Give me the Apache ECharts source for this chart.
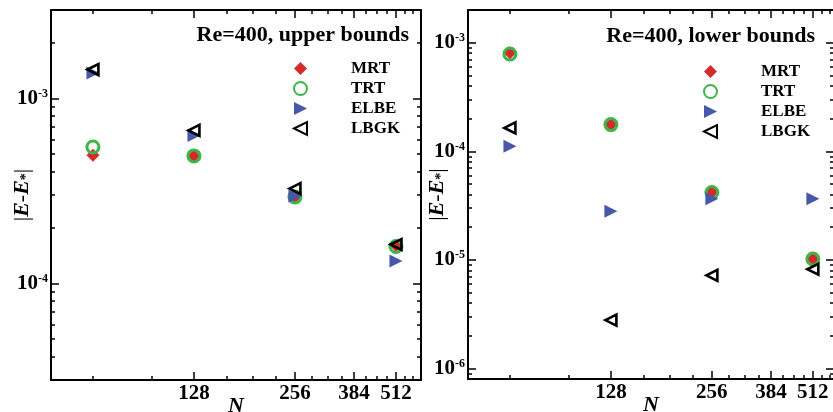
<!DOCTYPE html>
<html>
<head>
<meta charset="utf-8">
<script src="https://cdn.jsdelivr.net/npm/echarts@6/dist/echarts.min.js"></script>
<style>
  html, body { margin: 0; padding: 0; background: #fff; }
  #main { width: 833px; height: 412px; }
</style>
</head>
<body>
<div id="main"></div>
<script>
  var nValues = [64, 128, 256, 512];
  var seriesNames = ['MRT', 'TRT', 'ELBE', 'LBGK'];

  // Re=400, upper bounds
  var upperMRT = [4.92e-4, 4.88e-4, 2.93e-4, 1.60e-4];
  var upperTRT = [5.45e-4, 4.88e-4, 2.93e-4, 1.58e-4];
  var upperELBE = [1.37e-3, 6.3e-4, 2.95e-4, 1.32e-4];
  var upperLBGK = [1.43e-3, 6.7e-4, 3.25e-4, 1.62e-4];

  // Re=400, lower bounds
  var lowerMRT = [8.1e-4, 1.76e-4, 4.2e-5, 1.02e-5];
  var lowerTRT = [7.87e-4, 1.76e-4, 4.17e-5, 1.02e-5];
  var lowerELBE = [1.11e-4, 2.8e-5, 3.65e-5, 3.65e-5];
  var lowerLBGK = [1.64e-4, 2.79e-6, 7.2e-6, 8.2e-6];

  var xTickLabels = [128, 256, 384, 512];
  var xMinorTicks = [64, 96, 160, 192, 224, 288, 320, 352, 416, 448, 480, 544, 576];
  var upperYLabels = [1e-4, 1e-3];
  var lowerYLabels = [1e-6, 1e-5, 1e-4, 1e-3];

  var FONT = "'Liberation Serif', 'Times New Roman', serif";

  // minor ticks 2..9 x 10^e inside [lo, hi]
  function minorLogTicks(lo, hi) {
    var out = [];
    for (var e = Math.floor(Math.log10(lo)); e <= Math.ceil(Math.log10(hi)); e++) {
      for (var k = 2; k <= 9; k++) {
        var v = k * Math.pow(10, e);
        if (v >= lo * 0.999 && v <= hi * 1.001) out.push(v);
      }
    }
    return out;
  }

  function pairs(ys) {
    return nValues.map(function (n, i) { return [n, ys[i]]; });
  }

  var lineStyle = { color: '#000', width: 2 };
  var tickStyle = { color: '#000', width: 1.5 };

  function xAxes(g, xMax) {
    var base = { gridIndex: g, type: 'log', logBase: 2, min: 48, max: xMax, splitLine: { show: false } };
    return [
      Object.assign({}, base, {
        position: 'bottom',
        axisLine: { show: true, onZero: false, lineStyle: lineStyle },
        axisTick: { show: true, inside: true, length: 8, customValues: xTickLabels, lineStyle: tickStyle },
        axisLabel: {
          customValues: xTickLabels, margin: 3, color: '#000',
          fontFamily: FONT, fontWeight: 'bold', fontSize: 21,
          formatter: function (v) { return String(Math.round(v)); }
        },
        name: 'N', nameLocation: 'middle', nameGap: 15, nameMoveOverlap: false,
        nameTextStyle: { fontFamily: FONT, fontWeight: 'bold', fontStyle: 'italic', fontSize: 22, color: '#000' }
      }),
      Object.assign({}, base, {
        position: 'bottom',
        axisLine: { show: false },
        axisTick: { show: true, inside: true, length: 4, customValues: xMinorTicks, lineStyle: tickStyle },
        axisLabel: { show: false }
      }),
      Object.assign({}, base, {
        position: 'top',
        axisLine: { show: true, onZero: false, lineStyle: lineStyle },
        axisTick: { show: true, inside: true, length: 8, customValues: xTickLabels, lineStyle: tickStyle },
        axisLabel: { show: false }
      }),
      Object.assign({}, base, {
        position: 'top',
        axisLine: { show: false },
        axisTick: { show: true, inside: true, length: 4, customValues: xMinorTicks, lineStyle: tickStyle },
        axisLabel: { show: false }
      })
    ];
  }

  function yAxes(g, yMin, yMax, labels, nameGap) {
    var base = { gridIndex: g, type: 'log', logBase: 10, min: yMin, max: yMax, splitLine: { show: false } };
    var minor = minorLogTicks(yMin, yMax);
    return [
      Object.assign({}, base, {
        position: 'left',
        axisLine: { show: true, onZero: false, lineStyle: lineStyle },
        axisTick: { show: true, inside: true, length: 8, customValues: labels, lineStyle: tickStyle },
        axisLabel: {
          customValues: labels, margin: 3,
          formatter: function (v) {
            return '{b|10}{s|' + Math.round(Math.log10(v)) + '}';
          },
          rich: {
            b: { fontFamily: FONT, fontWeight: 'bold', fontSize: 21, color: '#000', lineHeight: 21 },
            s: { fontFamily: FONT, fontWeight: 'bold', fontSize: 12, color: '#000', verticalAlign: 'top', lineHeight: 12 }
          }
        },
        name: '{n||}{i|E}{n|-}{i|E}{sub|*}{n||}',
        nameLocation: 'middle', nameGap: nameGap, nameRotate: 90, nameMoveOverlap: false,
        nameTextStyle: {
          rich: {
            n: { fontFamily: FONT, fontSize: 22, color: '#000', lineHeight: 22 },
            i: { fontFamily: FONT, fontSize: 22, fontWeight: 'bold', fontStyle: 'italic', color: '#000', lineHeight: 22 },
            sub: { fontFamily: FONT, fontSize: 14, fontWeight: 'bold', color: '#000', verticalAlign: 'bottom', lineHeight: 14 }
          }
        }
      }),
      Object.assign({}, base, {
        position: 'left',
        axisLine: { show: false },
        axisTick: { show: true, inside: true, length: 4, customValues: minor, lineStyle: tickStyle },
        axisLabel: { show: false }
      }),
      Object.assign({}, base, {
        position: 'right',
        axisLine: { show: true, onZero: false, lineStyle: lineStyle },
        axisTick: { show: true, inside: true, length: 8, customValues: labels, lineStyle: tickStyle },
        axisLabel: { show: false }
      }),
      Object.assign({}, base, {
        position: 'right',
        axisLine: { show: false },
        axisTick: { show: true, inside: true, length: 4, customValues: minor, lineStyle: tickStyle },
        axisLabel: { show: false }
      })
    ];
  }

  var markerStyles = {
    MRT: { symbol: 'diamond', symbolSize: 13, symbolRotate: 0,
           icon: 'diamond',
           itemStyle: { color: '#d32a2c', opacity: 1 } },
    TRT: { symbol: 'circle', symbolSize: 12, symbolRotate: 0,
           icon: 'circle',
           itemStyle: { color: 'rgba(255,255,255,0)', borderColor: '#3db649', borderWidth: 3, opacity: 1 } },
    ELBE: { symbol: 'triangle', symbolSize: 13, symbolRotate: -90,
            icon: 'path://M10,5L0,0L0,10Z',
            itemStyle: { color: '#4757aa', opacity: 1 } },
    LBGK: { symbol: 'triangle', symbolSize: 11, symbolRotate: 90,
            icon: 'path://M0,5L10,0L10,10Z',
            itemStyle: { color: 'rgba(255,255,255,0)', borderColor: '#000', borderWidth: 2.6, opacity: 1 } }
  };

  function makeSeries(g, lists) {
    return seriesNames.map(function (name, i) {
      var st = markerStyles[name];
      return {
        name: name, type: 'scatter',
        xAxisIndex: g * 4, yAxisIndex: g * 4,
        symbol: st.symbol, symbolSize: st.symbolSize, symbolRotate: st.symbolRotate,
        itemStyle: st.itemStyle,
        emphasis: { disabled: true },
        data: pairs(lists[i])
      };
    });
  }

  function makeLegend(left, top) {
    return {
      data: seriesNames.map(function (name) {
        return { name: name, icon: markerStyles[name].icon };
      }),
      orient: 'vertical', left: left, top: top,
      itemWidth: 13, itemHeight: 13, itemGap: 3, padding: 0,
      selectedMode: false,
      textStyle: { fontFamily: FONT, fontWeight: 'bold', fontSize: 17, color: '#000', padding: [0, 0, 0, 39] }
    };
  }

  var myChart = echarts.init(document.getElementById('main'));
  var option = {
    animation: false,
    backgroundColor: '#fff',
    title: [
      { text: 'Re=400, upper bounds', right: 424, top: 24, padding: 0,
        textStyle: { fontFamily: FONT, fontWeight: 'bold', fontSize: 22, color: '#000' } },
      { text: 'Re=400, lower bounds', right: 18, top: 25, padding: 0,
        textStyle: { fontFamily: FONT, fontWeight: 'bold', fontSize: 22, color: '#000' } }
    ],
    legend: [makeLegend(293, 60), makeLegend(703, 63)],
    grid: [
      { left: 51, top: 10, width: 370, height: 370, containLabel: false, outerBoundsMode: 'none' },
      { left: 468, top: 10, width: 366, height: 369, containLabel: false, outerBoundsMode: 'none' }
    ],
    xAxis: xAxes(0, 608).concat(xAxes(1, 592)),
    yAxis: yAxes(0, 3e-5, 3e-3, upperYLabels, 18).concat(yAxes(1, 8e-7, 2e-3, lowerYLabels, 20)),
    series: makeSeries(0, [upperMRT, upperTRT, upperELBE, upperLBGK])
      .concat(makeSeries(1, [lowerMRT, lowerTRT, lowerELBE, lowerLBGK]))
  };
  myChart.setOption(option);
</script>
</body>
</html>
